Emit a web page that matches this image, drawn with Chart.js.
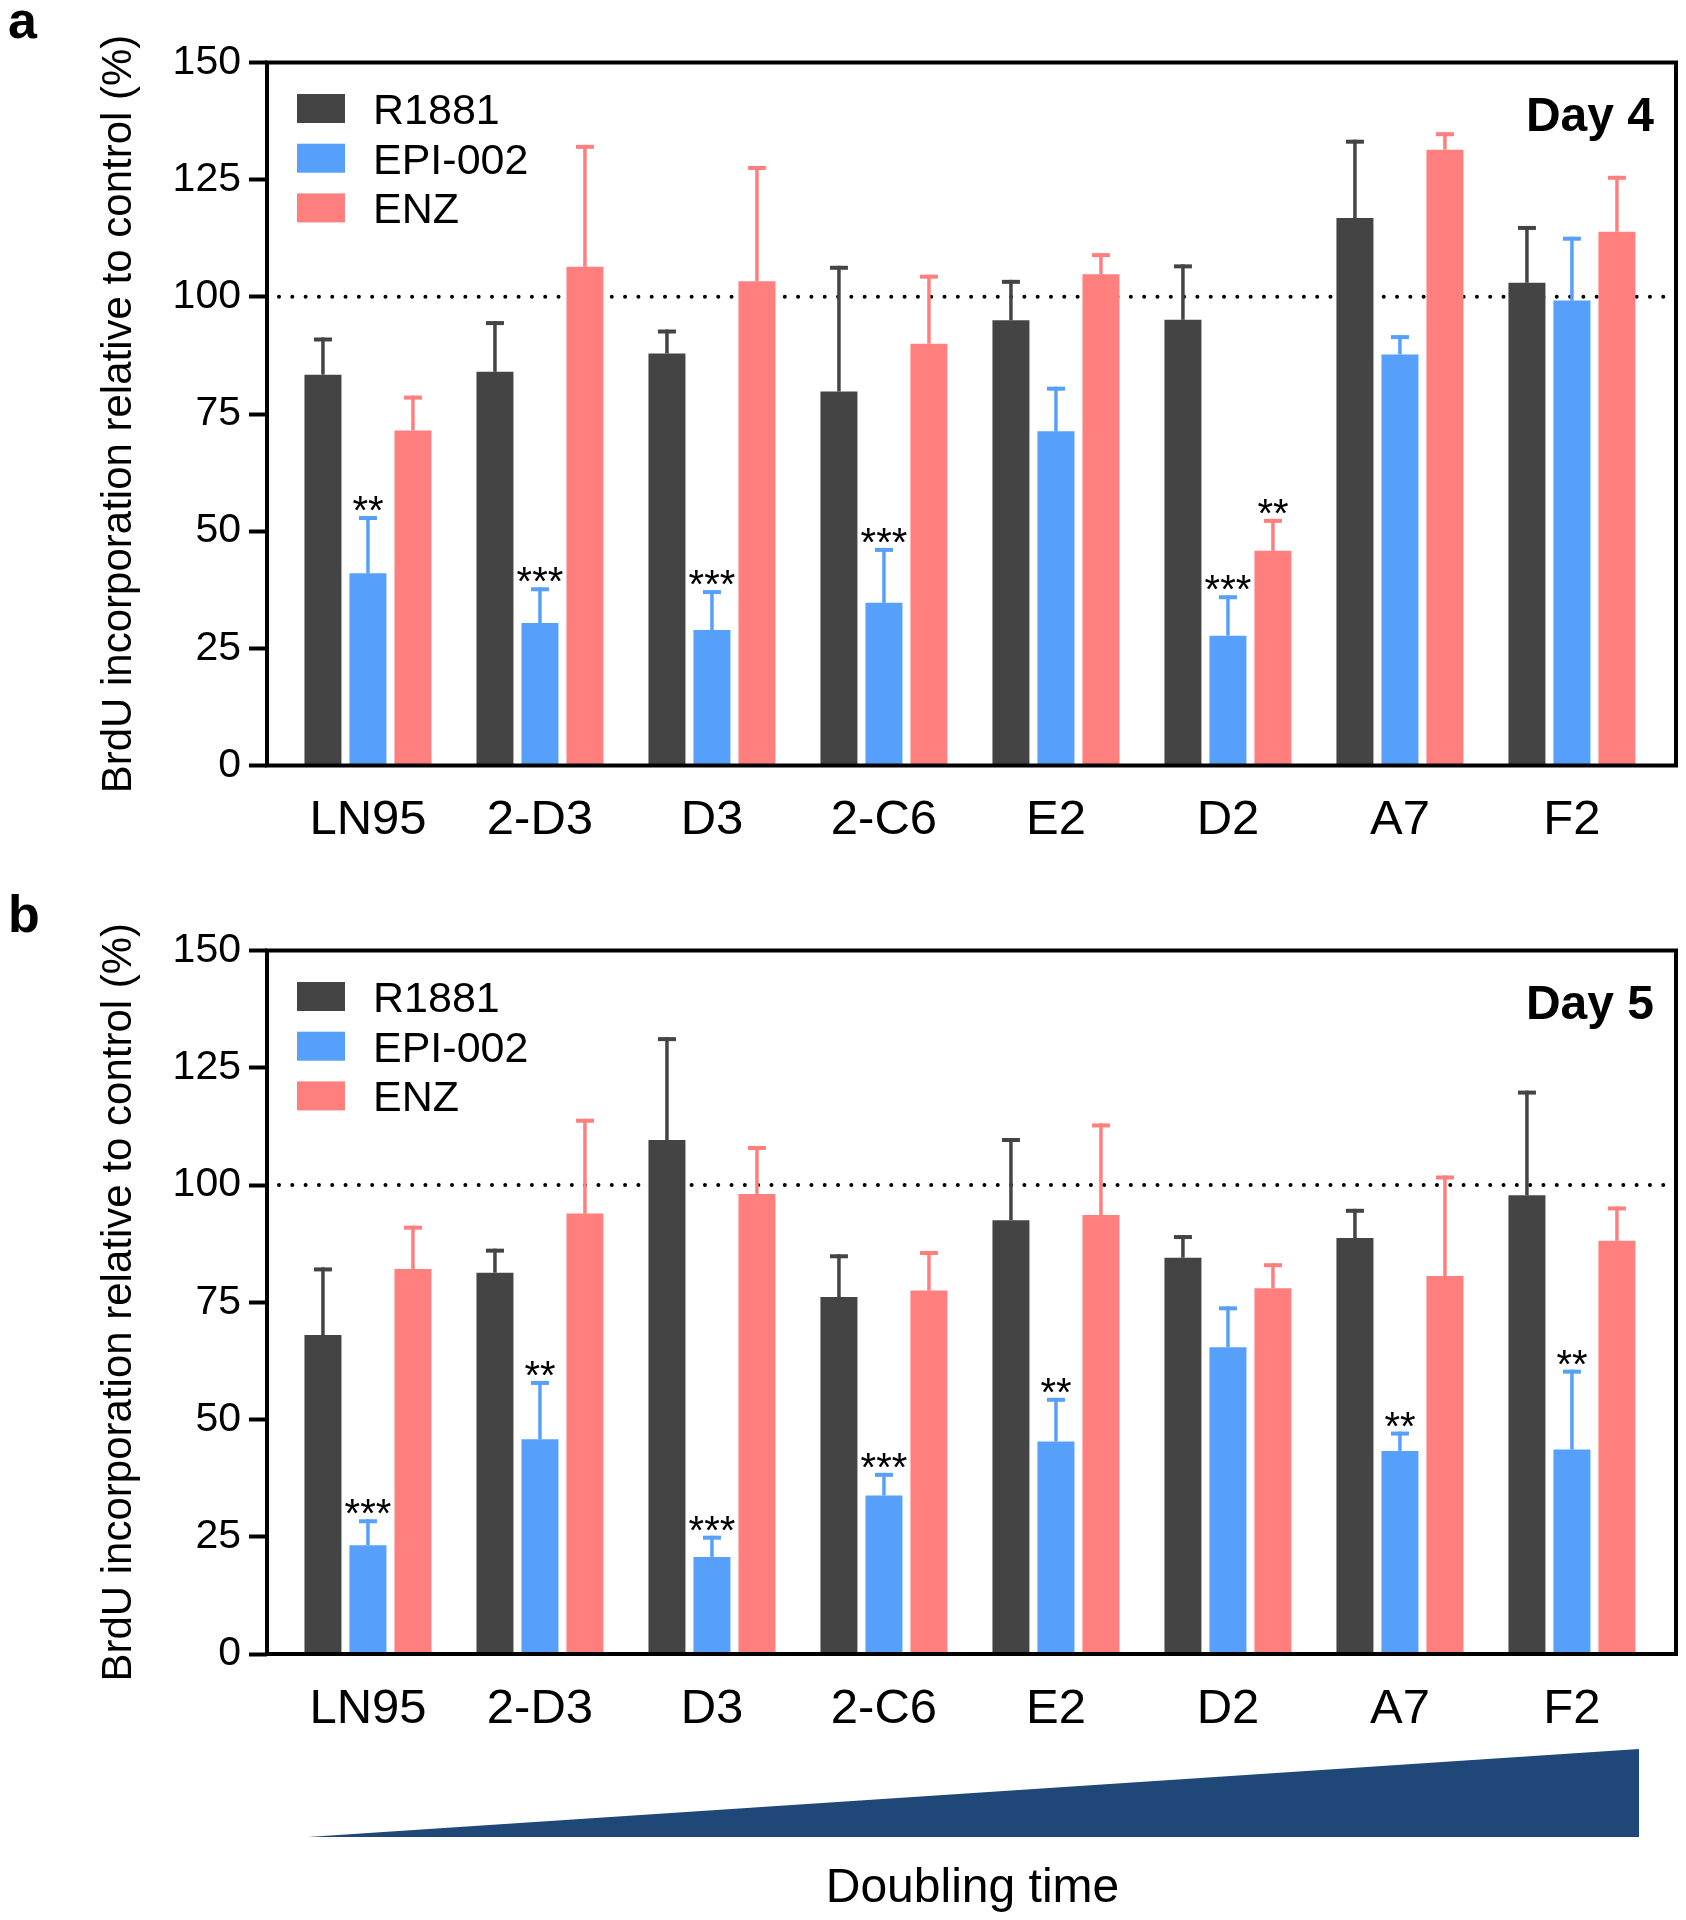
<!DOCTYPE html>
<html>
<head>
<meta charset="utf-8">
<script src="https://cdn.jsdelivr.net/npm/chart.js@4.4.1/dist/chart.umd.min.js"></script>
<style>
  html, body { margin: 0; padding: 0; background: #fff; }
  body { width: 1686px; height: 1920px; position: relative; overflow: hidden; }
  .wrap { position: absolute; left: 0; width: 1686px; }
  canvas { display: block; }
</style>
</head>
<body>
<div class="wrap" style="top:0px;height:870px"><canvas id="chartA" width="1686" height="870"></canvas></div>
<div class="wrap" style="top:888px;height:1032px"><canvas id="chartB" width="1686" height="1032"></canvas></div>
<script>
// ---------------- DATA ----------------
const categories = ['LN95', '2-D3', 'D3', '2-C6', 'E2', 'D2', 'A7', 'F2'];
const seriesNames = ['R1881', 'EPI-002', 'ENZ'];
const yTickValues = [0, 25, 50, 75, 100, 125, 150];
const referenceLevel = 100;
const yAxisTitle = 'BrdU incorporation relative to control (%)';
const bottomLabel = 'Doubling time';

// Day 4 (panel a)
const day4_R1881     = [83.4, 84.0, 87.9, 79.8, 95.0, 95.1, 116.8, 103.0];
const day4_R1881_err = [7.5, 10.4, 4.7, 26.4, 8.2, 11.4, 16.3, 11.7];
const day4_EPI       = [41.0, 30.4, 28.9, 34.7, 71.3, 27.7, 87.7, 99.2];
const day4_EPI_err   = [11.8, 7.2, 8.1, 11.3, 9.1, 8.2, 3.7, 13.2];
const day4_ENZ       = [71.5, 106.4, 103.3, 90.0, 104.8, 45.8, 131.4, 113.9];
const day4_ENZ_err   = [7.0, 25.6, 24.2, 14.3, 4.1, 6.4, 3.3, 11.5];
const day4_sig_R1881 = ['', '', '', '', '', '', '', ''];
const day4_sig_EPI   = ['**', '***', '***', '***', '', '***', '', ''];
const day4_sig_ENZ   = ['', '', '', '', '', '**', '', ''];

// Day 5 (panel b)
const day5_R1881     = [68.0, 81.3, 109.6, 76.1, 92.5, 84.5, 88.7, 97.8];
const day5_R1881_err = [14.0, 4.7, 21.5, 8.7, 17.1, 4.4, 5.8, 21.9];
const day5_EPI       = [23.2, 45.8, 20.7, 33.8, 45.3, 65.4, 43.3, 43.6];
const day5_EPI_err   = [5.1, 12.0, 4.1, 4.4, 8.9, 8.3, 3.7, 16.6];
const day5_ENZ       = [82.1, 93.9, 98.1, 77.5, 93.6, 78.0, 80.6, 88.1];
const day5_ENZ_err   = [8.8, 19.8, 9.8, 8.0, 19.1, 4.9, 21.0, 6.9];
const day5_sig_R1881 = ['', '', '', '', '', '', '', ''];
const day5_sig_EPI   = ['***', '**', '***', '***', '**', '', '**', '**'];
const day5_sig_ENZ   = ['', '', '', '', '', '', '', ''];

// ---------------- STYLE ----------------
const seriesColors = ['#444444', '#56a0fb', '#ff7f7f'];
const FONT = '"Liberation Sans", Arial, Helvetica, sans-serif';

const decoPlugin = {
  id: 'deco',
  beforeDatasetsDraw(chart) {
    const { ctx, chartArea: a, scales: { y } } = chart;
    const yy = y.getPixelForValue(referenceLevel);
    ctx.save();
    ctx.strokeStyle = '#000';
    ctx.lineWidth = 4;
    ctx.lineCap = 'round';
    ctx.setLineDash([0.01, 13.3]);
    ctx.beginPath();
    ctx.moveTo(a.left + 12, yy);
    ctx.lineTo(a.right - 4, yy);
    ctx.stroke();
    ctx.restore();
  },
  afterDatasetsDraw(chart) {
    const { ctx, chartArea: a, scales: { y } } = chart;
    const o = chart.options.plugins.deco;
    ctx.save();
    // error bars + significance
    chart.data.datasets.forEach((ds, di) => {
      const meta = chart.getDatasetMeta(di);
      meta.data.forEach((bar, i) => {
        const v = ds.data[i].y;
        const top = y.getPixelForValue(v + ds.err[i]);
        const base = y.getPixelForValue(v);
        ctx.strokeStyle = ds.backgroundColor;
        ctx.lineWidth = 3.5;
        ctx.setLineDash([]);
        ctx.lineCap = 'butt';
        ctx.beginPath();
        ctx.moveTo(bar.x, base);
        ctx.lineTo(bar.x, top - 2);
        ctx.stroke();
        ctx.lineWidth = 4;
        ctx.beginPath();
        ctx.moveTo(bar.x - 9, top);
        ctx.lineTo(bar.x + 9, top);
        ctx.stroke();
        const s = ds.sig[i];
        if (s) {
          ctx.font = '40px ' + FONT;
          ctx.fillStyle = '#000';
          ctx.textAlign = 'center';
          ctx.textBaseline = 'alphabetic';
          const m = ctx.measureText(s);
          ctx.fillText(s, bar.x, top - 7 - m.actualBoundingBoxDescent);
        }
      });
    });
    // frame
    ctx.strokeStyle = '#000';
    ctx.lineWidth = 4;
    ctx.setLineDash([]);
    ctx.strokeRect(a.left, a.top, a.right - a.left, a.bottom - a.top);
    // legend
    chart.data.datasets.forEach((ds, di) => {
      const cy = a.top + 46 + di * 49.7;
      ctx.fillStyle = ds.backgroundColor;
      ctx.fillRect(a.left + 30, cy - 14.5, 48, 29);
      ctx.fillStyle = '#000';
      ctx.font = '43px ' + FONT;
      ctx.textAlign = 'left';
      ctx.textBaseline = 'alphabetic';
      ctx.fillText(ds.label, a.left + 106, cy + 15.5);
    });
    // day label
    ctx.font = 'bold 48px ' + FONT;
    ctx.textAlign = 'right';
    ctx.fillText(o.day, a.right - 22, a.top + 68);
    // panel letter
    ctx.font = 'bold 52px ' + FONT;
    ctx.textAlign = 'left';
    ctx.fillText(o.letter, 8, o.letterY);
    // triangle + doubling time
    if (o.triangle) {
      const x0 = a.left + 41, x1 = a.right - 37;
      const yb = a.bottom + 183, yt = a.bottom + 95;
      ctx.fillStyle = '#1f4778';
      ctx.beginPath();
      ctx.moveTo(x0, yb);
      ctx.lineTo(x1, yt);
      ctx.lineTo(x1, yb);
      ctx.closePath();
      ctx.fill();
      ctx.fillStyle = '#000';
      ctx.font = '48px ' + FONT;
      ctx.textAlign = 'center';
      ctx.fillText(bottomLabel, (a.left + a.right) / 2 + 1, a.bottom + 248);
    }
    ctx.restore();
  }
};

function makePanel(canvasId, values, errs, sigs, day, letter, letterY, xAxisHeight, triangle) {
  const datasets = seriesNames.map((name, si) => ({
    label: name,
    data: categories.map((c, i) => ({ x: i, y: values[si][i] })),
    err: errs[si],
    sig: sigs[si],
    backgroundColor: seriesColors[si],
    borderWidth: 0,
    categoryPercentage: 0.785,
    barPercentage: 0.822
  }));
  return new Chart(document.getElementById(canvasId), {
    type: 'bar',
    data: { datasets },
    plugins: [decoPlugin],
    options: {
      responsive: false,
      animation: false,
      layout: { padding: { top: 62.5, right: 10, left: 0, bottom: 0 } },
      plugins: {
        legend: { display: false },
        tooltip: { enabled: false },
        deco: { day, letter, letterY, triangle }
      },
      scales: {
        x: {
          type: 'linear',
          offset: false,
          min: -0.587,
          max: 7.605,
          grid: { display: false, offset: false },
          border: { display: false },
          afterBuildTicks: (s) => { s.ticks = categories.map((c, i) => ({ value: i })); },
          afterFit: (s) => { s.height = xAxisHeight; },
          ticks: {
            autoSkip: false,
            maxRotation: 0,
            padding: 18,
            color: '#000',
            font: { family: FONT, size: 49 },
            callback: (v) => categories[v] ?? ''
          }
        },
        y: {
          min: 0,
          max: 150,
          afterBuildTicks: (s) => { s.ticks = yTickValues.map(v => ({ value: v })); },
          afterFit: (s) => { s.width = 267; },
          grid: { display: true, drawOnChartArea: false, drawTicks: true, tickLength: 18, tickWidth: 4, tickColor: '#000' },
          border: { display: false },
          ticks: { padding: 8, color: '#000', font: { family: FONT, size: 41 } },
          title: {
            display: true,
            text: yAxisTitle,
            color: '#000',
            font: { family: FONT, size: 42 },
            padding: { top: 94, bottom: 0 }
          }
        }
      }
    }
  });
}

makePanel('chartA',
  [day4_R1881, day4_EPI, day4_ENZ],
  [day4_R1881_err, day4_EPI_err, day4_ENZ_err],
  [day4_sig_R1881, day4_sig_EPI, day4_sig_ENZ],
  'Day 4', 'a', 38, 870 - 765.5, false);

makePanel('chartB',
  [day5_R1881, day5_EPI, day5_ENZ],
  [day5_R1881_err, day5_EPI_err, day5_ENZ_err],
  [day5_sig_R1881, day5_sig_EPI, day5_sig_ENZ],
  'Day 5', 'b', 44, 1032 - 766, true);
</script>
</body>
</html>
